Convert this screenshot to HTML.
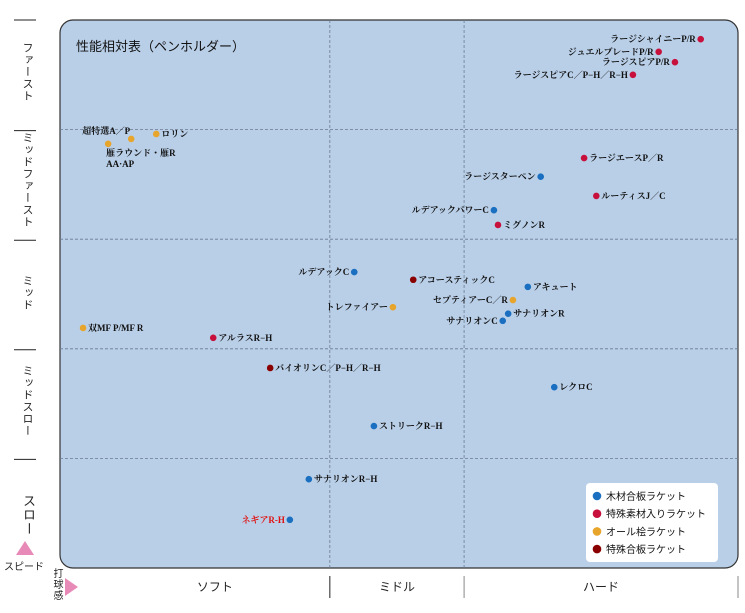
<!DOCTYPE html>
<html><head><meta charset="utf-8">
<style>
body{margin:0;width:745px;height:613px;background:#fff;overflow:hidden;font-family:"Liberation Sans","Noto Sans CJK JP",sans-serif;}
svg{position:absolute;left:0;top:0}
.vt{position:absolute;writing-mode:vertical-rl;font-size:11px;color:#222;letter-spacing:1px;}
</style></head>
<body>
<svg id="chart" width="745" height="613">
  <rect x="60" y="20" width="678" height="548" rx="13" fill="#b9cfe8" stroke="#333" stroke-width="1.2"/>
  <text x="76" y="51" font-size="13" fill="#111" font-family="Liberation Sans, Noto Sans CJK JP, sans-serif">性能相対表（ペンホルダー）</text>
  <g id="grid"></g>
  <g id="ylab"></g>
  <g id="xlab"></g>
  <g id="marks"></g>
  <g>
    <rect x="586" y="483" width="132" height="79" rx="4" fill="#fff"/>
  </g>
  <g id="legend"></g>
  <polygon points="16,555 34,555 25,541" fill="#e88ab8"/>
  <text x="4" y="570" font-size="10" fill="#222">スピード</text>
  <polygon points="65,578 65,596 78,587" fill="#e88ab8"/>
</svg>
<div class="vt" style="left:51px;top:568px;font-size:10px;line-height:10px">打球感</div>
<div id="vlabels"></div>
<script>
const names=["ラージシャイニーP/R","ジュエルブレードP/R","ラージスピアP/R","ラージスピアC／P−H／R−H","超特選A／P","雁ラウンド・雁R","ロリン","ラージエースP／R","ラージスターペン","ルーティスJ／C","ルデアックパワーC","ミグノンR","ルデアックC","アコースティックC","アキュート","セプティアーC／R","サナリオンR","トレファイアー","サナリオンC","双MF P/MF R","アルラスR−H","バイオリンC／P−H／R−H","レクロC","ストリークR−H","サナリオンR−H","ネギアR-H"];
const hardness=[94.5,88.3,90.7,84.5,10.5,7.1,14.2,77.3,70.9,79.1,64.0,64.6,43.4,52.1,69.0,66.8,66.1,49.1,65.3,3.4,22.6,31.0,72.9,46.3,36.7,33.9];
const speed=[96.5,94.2,92.3,90.0,78.3,77.4,79.2,74.8,71.4,67.9,65.3,62.6,54.0,52.6,51.3,48.9,46.4,47.6,45.1,43.8,42.0,36.5,33.0,25.9,16.2,8.8];
const types=[1,1,1,1,2,2,2,1,0,1,0,1,0,3,0,2,0,2,0,2,1,3,0,0,0,0];
const sides=["l","l","l","l","a","b","r","r","l","r","l","r","l","r","r","l","r","l","l","r","r","r","r","r","r","l"];
const typeNames=["木材合板ラケット","特殊素材入りラケット","オール桧ラケット","特殊合板ラケット"];
const typeColors=["#1a6fc0","#c8103c","#e8a52c","#8a0000"];
const speedLabels=["ファースト","ミッドファースト","ミッド","ミッドスロー","スロー"];
const feelLabels=["ソフト","ミドル","ハード"];
const feelBounds=[0,39.8,59.6,100];

const X0=60,X1=738,Y0=568,Y1=20;
const xs=v=>X0+(X1-X0)*v/100;
const ys=v=>Y0-(Y0-Y1)*v/100;
const NS="http://www.w3.org/2000/svg";
function mk(t,a,p){const e=document.createElementNS(NS,t);for(const k in a)e.setAttribute(k,a[k]);p.appendChild(e);return e;}
const grid=document.getElementById('grid');
for(let i=1;i<5;i++){const y=ys(i*20);
  const l=mk('line',{x1:X0,x2:X1,y1:y,y2:y,stroke:'#6a7a90','stroke-dasharray':'3,2','stroke-width':0.8},grid);
  
  }
for(let i=1;i<3;i++){const x=xs(feelBounds[i]);
  const l=mk('line',{x1:x,x2:x,y1:Y1,y2:Y0,stroke:'#6a7a90','stroke-dasharray':'3,2','stroke-width':0.8},grid);
  
  }
const ylab=document.getElementById('ylab');
for(let i=0;i<5;i++){const y=ys(100-i*20)+(i==0?0:1);
  const t=mk('line',{x1:14,x2:36,y1:y,y2:y,stroke:'#222','stroke-width':1},ylab);
  
  }
const vl=document.getElementById('vlabels');
speedLabels.forEach((s,i)=>{const top=ys(100-i*20),bot=ys(80-i*20);
  const d=document.createElement('div');d.className='vt';d.textContent=s;
  d.style.left='19px';d.style.top=((top+bot)/2-s.length*6.5)+'px';
  if(i==4){d.style.fontSize='13px';}
  
  
  vl.appendChild(d);});
const xlab=document.getElementById('xlab');
for(let i=0;i<4;i++){const x=i==0?xs(feelBounds[i])+42:xs(feelBounds[i]);
  if(i>0){const t=mk('line',{x1:x,x2:x,y1:576,y2:598,stroke:i==1?'#222':'#888','stroke-width':1},xlab);
  
  }}
feelLabels.forEach((s,i)=>{const x=(xs(feelBounds[i])+xs(feelBounds[i+1]))/2+(i==0?20:0);
  const t=mk('text',{x:x,y:591,'font-size':12,'text-anchor':'middle',fill:'#222'},xlab);t.textContent=s;
  
  });
const marks=document.getElementById('marks');
names.forEach((n,i)=>{const cx=xs(hardness[i]),cy=ys(speed[i]);
  const c=mk('circle',{cx:cx,cy:cy,r:3.3,fill:typeColors[types[i]]},marks);
  
  
  const st={'font-size':9,'font-weight':'bold',fill:i==25?'#e01010':'#111','font-family':'Liberation Serif, Noto Serif CJK SC, serif'};
  let tx,ty,anchor;
  if(sides[i]=='l'){tx=cx-5;ty=cy+3;anchor='end';}
  else if(sides[i]=='r'){tx=cx+5;ty=cy+3;anchor='start';}
  else if(sides[i]=='a'){tx=cx-1;ty=cy-5;anchor='end';}
  else{tx=cx-2;ty=cy+12;anchor='start';}
  st.x=tx;st.y=ty;st['text-anchor']=anchor;
  const t=mk('text',st,marks);t.textContent=n;
  
  
  if(sides[i]=='b'){const t2=mk('text',Object.assign({},st,{y:ty+11}),marks);t2.textContent='AA·AP';
    
    }
});
const lg=document.getElementById('legend');
typeNames.forEach((n,i)=>{const y=496+i*17.7;
  const c=mk('circle',{cx:597,cy:y,r:4.3,fill:typeColors[i]},lg);
  
  
  const t=mk('text',{x:606,y:y+4,'font-size':10,fill:'#111'},lg);t.textContent=n;
  
  });
</script>
</body></html>
